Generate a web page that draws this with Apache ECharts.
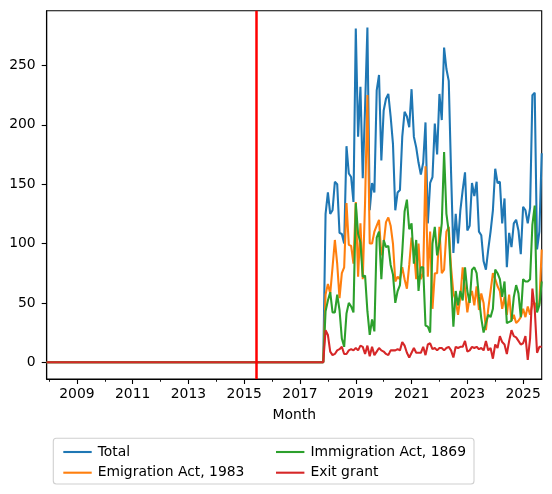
<!DOCTYPE html>
<html><head><meta charset="utf-8">
<script src="https://cdn.jsdelivr.net/npm/echarts@6/dist/echarts.min.js"></script>
<style>html,body{margin:0;padding:0;background:#fff}#c{width:552px;height:494px}</style>
</head><body><div id="c"></div>
<script>
// first month of the series: December 2007
const startYear = 2007, startMonth = 12;
// Dec 2007 .. Nov 2017: all zero
const leadingZeros = [
 0,0,0,0,0,0,0,0,0,0,0,0, 0,0,0,0,0,0,0,0,0,0,0,0,
 0,0,0,0,0,0,0,0,0,0,0,0, 0,0,0,0,0,0,0,0,0,0,0,0,
 0,0,0,0,0,0,0,0,0,0,0,0, 0,0,0,0,0,0,0,0,0,0,0,0,
 0,0,0,0,0,0,0,0,0,0,0,0, 0,0,0,0,0,0,0,0,0,0,0,0,
 0,0,0,0,0,0,0,0,0,0,0,0, 0,0,0,0,0,0,0,0,0,0,0,0
];
// Dec 2017 .. Sep 2025
const total = [
 125,143,125,128,152,150,109,108,100,182,159,156,
 135,281,190,232,155,215,282,128,151,143,229,242,
 170,212,222,226,207,184,128,143,145,190,211,207,
 198,230,190,181,168,158,168,202,117,151,156,201,
 175,226,204,265,247,237,160,92,125,100,128,145,
 160,111,115,151,140,152,110,107,85,78,95,110,
 128,163,151,152,117,138,80,109,97,117,120,111,
 91,131,128,117,130,225,227,95,110,176
];
const emigration = [
 57,66,58,80,103,83,54,75,80,134,99,98,
 83,135,72,117,70,135,225,100,100,110,115,120,
 90,100,118,122,115,100,68,72,70,80,70,62,
 82,105,95,70,100,70,75,165,72,110,45,75,
 75,114,75,78,110,114,80,58,52,40,55,80,
 62,42,55,60,48,64,44,58,50,27,45,60,
 75,70,64,60,45,55,40,57,35,40,33,35,
 38,45,38,47,40,49,50,44,50,95
];
const immigration = [
 43,52,59,42,42,57,44,20,13,41,50,47,
 42,134,108,101,72,73,43,23,36,26,105,110,
 70,103,97,98,82,74,50,60,65,93,127,137,
 112,117,83,103,60,80,80,31,30,25,100,114,
 90,100,117,177,125,110,70,30,60,48,60,52,
 80,60,50,78,80,75,55,37,25,33,40,38,
 45,78,75,70,55,68,33,34,35,55,65,58,
 38,70,68,68,70,116,132,42,48,68
];
const exitGrant = [
 27,23,9,6,7,10,11,13,7,7,10,11,
 10,12,10,14,13,7,14,5,13,6,9,12,
 10,9,7,6,10,10,10,11,10,17,14,8,
 4,8,12,8,8,8,13,6,15,16,11,12,
 10,12,12,10,12,13,10,4,13,12,13,13,
 18,9,10,13,12,13,11,12,10,18,10,12,
 3,15,12,22,17,15,7,18,27,22,21,18,
 15,16,22,2,20,62,45,8,13,13
];
const seriesNames = ['Total', 'Emigration Act, 1983', 'Immigration Act, 1869', 'Exit grant'];
const policyYear = 2015, policyMonth = 6;
const yTicks = [0, 50, 100, 150, 200, 250];
const xMajorTicks = [2009, 2011, 2013, 2015, 2017, 2019, 2021, 2023, 2025];
const xMinorTicks = [2008, 2010, 2012, 2014, 2016, 2018, 2020, 2022, 2024];

const colors = ['#1f77b4', '#ff7f0e', '#2ca02c', '#d62728'];
const monthX = (y, m) => y + (m - 1) / 12;
function toPoints(vals) {
  const all = leadingZeros.concat(vals);
  return all.map((v, i) => [monthX(startYear, startMonth) + i / 12, v]);
}
const dataSets = [total, emigration, immigration, exitGrant].map(toPoints);
const xMin = monthX(startYear, startMonth);
const xMax = dataSets[0][dataSets[0].length - 1][0];
const F = 'DejaVu Sans';
const FS = 13.9;

const chart = echarts.init(document.getElementById('c'), null, {renderer: 'canvas'});
const series = dataSets.map((d, i) => ({
  name: seriesNames[i], type: 'line', data: d, showSymbol: false, symbol: 'none',
  color: colors[i], lineStyle: {color: colors[i], width: 2.08}, animation: false,
  emphasis: {disabled: true}
}));
series[3].markLine = {
  symbol: ['none', 'none'], silent: true, animation: false, label: {show: false},
  lineStyle: {color: '#ff0000', width: 2.5, type: 'solid'},
  data: [{xAxis: monthX(policyYear, policyMonth)}]
};
const legendCommon = {
  orient: 'vertical', top: 440, icon: 'rect', itemWidth: 28.4, itemHeight: 2.1, itemGap: 6.7,
  textStyle: {fontFamily: F, fontSize: FS, color: '#000', lineHeight: 14, padding: [0, 0, 0, 1]},
  selectedMode: false
};
chart.setOption({
  animation: false,
  backgroundColor: '#fff',
  grid: {left: 46.7, top: 10.7, right: 10.3, bottom: 115, show: true, borderColor: '#000', borderWidth: 1.1, backgroundColor: 'transparent'},
  xAxis: [{
    type: 'value', min: xMin, max: xMax,
    axisLine: {show: true, onZero: false, lineStyle: {color: '#000', width: 1.1}},
    axisTick: {show: true, customValues: xMajorTicks, length: 5, lineStyle: {color: '#000', width: 1.1}},
    axisLabel: {customValues: xMajorTicks, formatter: v => String(Math.round(v)), color: '#000', fontFamily: F, fontSize: FS, margin: 8},
    splitLine: {show: false},
    name: 'Month', nameLocation: 'middle', nameGap: 29,
    nameTextStyle: {fontFamily: F, fontSize: FS, color: '#000'}
  }, {
    type: 'value', min: xMin, max: xMax, position: 'bottom',
    axisLine: {show: false, onZero: false},
    axisTick: {show: true, customValues: xMinorTicks, length: 2.8, lineStyle: {color: '#000', width: 0.9}},
    axisLabel: {show: false},
    splitLine: {show: false}
  }],
  yAxis: {
    type: 'value', min: -14.1, max: 296.1,
    axisLine: {show: true, onZero: false, lineStyle: {color: '#000', width: 1.1}},
    axisTick: {show: true, customValues: yTicks, length: 5, lineStyle: {color: '#000', width: 1.1}},
    axisLabel: {customValues: yTicks, color: '#000', fontFamily: F, fontSize: FS, margin: 11},
    splitLine: {show: false}
  },
  legend: [
    Object.assign({left: 58.3, data: [seriesNames[0], seriesNames[1]]}, legendCommon),
    Object.assign({left: 271, data: [seriesNames[2], seriesNames[3]]}, legendCommon)
  ],
  graphic: [{
    type: 'rect', z: 1, silent: true,
    shape: {x: 53.3, y: 438.3, width: 420.7, height: 45.7, r: 3},
    style: {fill: 'rgba(255,255,255,0.8)', stroke: '#d0d0d0', lineWidth: 1.1}
  }],
  series: series
});
</script></body></html>
